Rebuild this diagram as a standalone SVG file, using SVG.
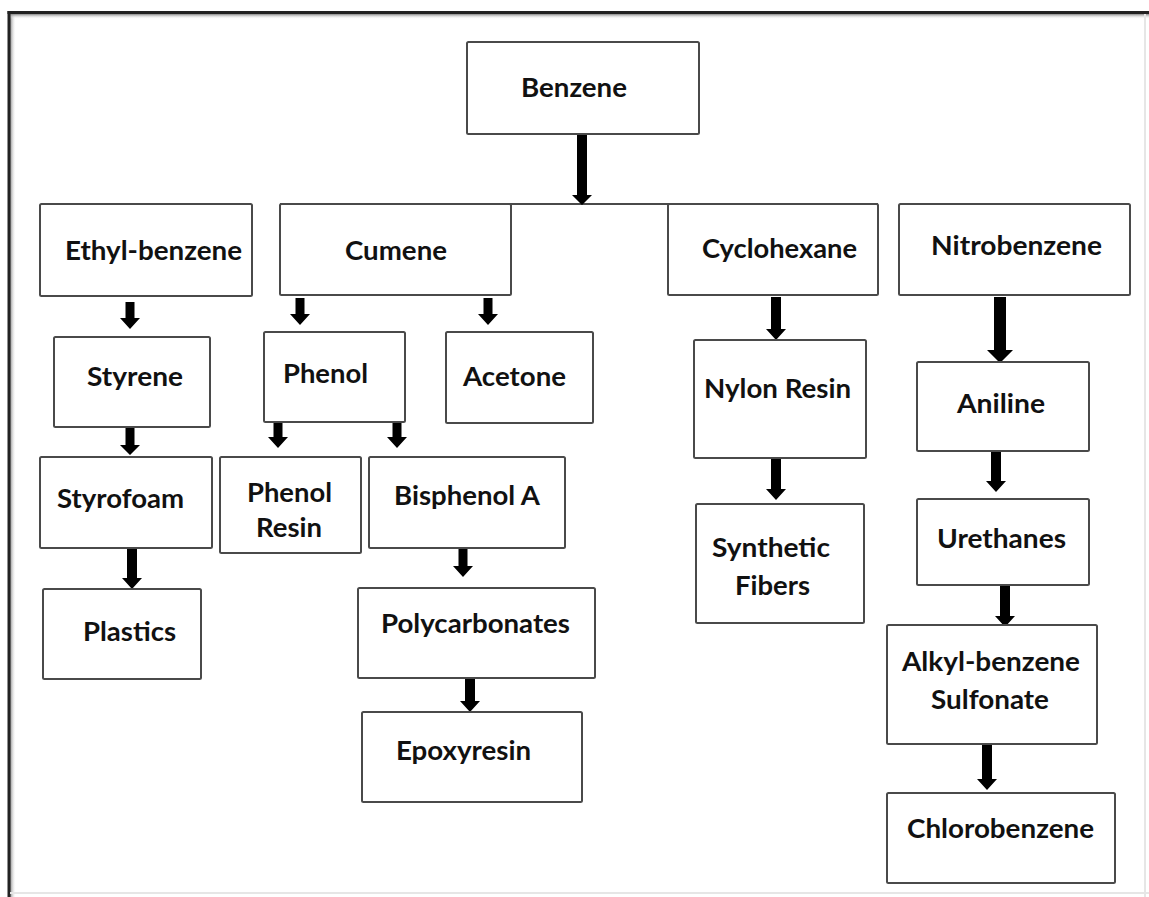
<svg xmlns="http://www.w3.org/2000/svg" width="1149" height="897" viewBox="0 0 1149 897">
<defs>
<linearGradient id="shL" x1="0" y1="0" x2="1" y2="0"><stop offset="0" stop-color="#888"/><stop offset="1" stop-color="#fff" stop-opacity="0"/></linearGradient>
<linearGradient id="shT" x1="0" y1="0" x2="0" y2="1"><stop offset="0" stop-color="#888"/><stop offset="1" stop-color="#fff" stop-opacity="0"/></linearGradient>
</defs>
<style>
.box{fill:#fff;stroke:#4a4a4a;stroke-width:2}
.lbl{font-family:Lato,"Open Sans","Liberation Sans",sans-serif;font-weight:bold;font-size:26px;fill:#111}
.arr{fill:#000;stroke:none}
.hl{stroke:#4a4a4a;stroke-width:2;fill:none}
</style>
<rect width="1149" height="897" fill="#fff"/>
<g id="frame">
<rect x="10" y="14" width="6" height="883" fill="url(#shL)"/>
<rect x="10" y="14" width="1139" height="5" fill="url(#shT)"/>
<rect x="7.5" y="11" width="3" height="886" fill="#222"/>
<rect x="7.5" y="11" width="1141.5" height="3" fill="#222"/>
<rect x="1144" y="14" width="2" height="883" fill="#e6e6e6"/>
<rect x="10" y="892" width="1139" height="2" fill="#e6e6e6"/>
</g>
<g id="connectors">
<line class="hl" x1="280" y1="204" x2="878" y2="204"/>
<path class="arr" d="M577,134 H587 V195 H592 L582,205 L572,195 H577 Z"/>
<path class="arr" d="M125.5,302 H134.5 V318 H140 L130,329 L120,318 H125.5 Z"/>
<path class="arr" d="M125.5,428 H134.5 V445 H140 L130,455 L120,445 H125.5 Z"/>
<path class="arr" d="M127,549 H137 V578 H142 L132,589 L122,578 H127 Z"/>
<path class="arr" d="M295.5,298 H304.5 V314 H310 L300,325 L290,314 H295.5 Z"/>
<path class="arr" d="M483.5,298 H492.5 V314 H498 L488,325 L478,314 H483.5 Z"/>
<path class="arr" d="M273.5,422 H282.5 V437 H288 L278,448 L268,437 H273.5 Z"/>
<path class="arr" d="M392.5,422 H401.5 V437 H407 L397,448 L387,437 H392.5 Z"/>
<path class="arr" d="M458.5,549 H467.5 V566 H473 L463,577 L453,566 H458.5 Z"/>
<path class="arr" d="M465,678 H475 V701 H480 L470,712 L460,701 H465 Z"/>
<path class="arr" d="M771,297 H781 V329 H786 L776,340 L766,329 H771 Z"/>
<path class="arr" d="M771,459 H781 V489 H786 L776,500 L766,489 H771 Z"/>
<path class="arr" d="M994,297 H1006 V350 H1013 L1000,363 L987,350 H994 Z"/>
<path class="arr" d="M991,452 H1001 V481 H1006 L996,492 L986,481 H991 Z"/>
<path class="arr" d="M1000,586 H1010 V616 H1015 L1005,627 L995,616 H1000 Z"/>
<path class="arr" d="M982,745 H992 V779 H997 L987,790 L977,779 H982 Z"/>
</g>
<g id="benzene"><rect class="box" x="467" y="42" width="232" height="92" rx="1.5"/><text class="lbl" x="521" y="97" textLength="106" lengthAdjust="spacingAndGlyphs">Benzene</text></g>
<g id="ethylbenzene"><rect class="box" x="40" y="204" width="212" height="92" rx="1.5"/><text class="lbl" x="65" y="260" textLength="177" lengthAdjust="spacingAndGlyphs">Ethyl-benzene</text></g>
<g id="cumene"><rect class="box" x="280" y="204" width="231" height="91" rx="1.5"/><text class="lbl" x="345" y="260" textLength="102" lengthAdjust="spacingAndGlyphs">Cumene</text></g>
<g id="cyclohexane"><rect class="box" x="668" y="204" width="210" height="91" rx="1.5"/><text class="lbl" x="702" y="258" textLength="155" lengthAdjust="spacingAndGlyphs">Cyclohexane</text></g>
<g id="nitrobenzene"><rect class="box" x="899" y="204" width="231" height="91" rx="1.5"/><text class="lbl" x="931" y="255" textLength="171" lengthAdjust="spacingAndGlyphs">Nitrobenzene</text></g>
<g id="styrene"><rect class="box" x="54" y="337" width="156" height="90" rx="1.5"/><text class="lbl" x="87" y="386" textLength="96" lengthAdjust="spacingAndGlyphs">Styrene</text></g>
<g id="phenol"><rect class="box" x="264" y="332" width="141" height="90" rx="1.5"/><text class="lbl" x="283" y="383" textLength="85" lengthAdjust="spacingAndGlyphs">Phenol</text></g>
<g id="acetone"><rect class="box" x="446" y="332" width="147" height="91" rx="1.5"/><text class="lbl" x="463" y="386" textLength="103" lengthAdjust="spacingAndGlyphs">Acetone</text></g>
<g id="styrofoam"><rect class="box" x="40" y="457" width="172" height="91" rx="1.5"/><text class="lbl" x="57" y="508" textLength="127" lengthAdjust="spacingAndGlyphs">Styrofoam</text></g>
<g id="phenolresin"><rect class="box" x="220" y="457" width="141" height="96" rx="1.5"/><text class="lbl" x="247" y="502" textLength="85" lengthAdjust="spacingAndGlyphs">Phenol</text><text class="lbl" x="256" y="537" textLength="66" lengthAdjust="spacingAndGlyphs">Resin</text></g>
<g id="bisphenola"><rect class="box" x="369" y="457" width="196" height="91" rx="1.5"/><text class="lbl" x="394" y="505" textLength="146" lengthAdjust="spacingAndGlyphs">Bisphenol A</text></g>
<g id="plastics"><rect class="box" x="43" y="589" width="158" height="90" rx="1.5"/><text class="lbl" x="83" y="641" textLength="93" lengthAdjust="spacingAndGlyphs">Plastics</text></g>
<g id="polycarbonates"><rect class="box" x="358" y="588" width="237" height="90" rx="1.5"/><text class="lbl" x="381" y="633" textLength="189" lengthAdjust="spacingAndGlyphs">Polycarbonates</text></g>
<g id="epoxyresin"><rect class="box" x="362" y="712" width="220" height="90" rx="1.5"/><text class="lbl" x="396" y="760" textLength="135" lengthAdjust="spacingAndGlyphs">Epoxyresin</text></g>
<g id="nylonresin"><rect class="box" x="694" y="340" width="172" height="118" rx="1.5"/><text class="lbl" x="704" y="398" textLength="147" lengthAdjust="spacingAndGlyphs">Nylon Resin</text></g>
<g id="syntheticfibers"><rect class="box" x="696" y="504" width="168" height="119" rx="1.5"/><text class="lbl" x="712" y="557" textLength="118" lengthAdjust="spacingAndGlyphs">Synthetic</text><text class="lbl" x="735" y="595" textLength="75" lengthAdjust="spacingAndGlyphs">Fibers</text></g>
<g id="aniline"><rect class="box" x="917" y="362" width="172" height="89" rx="1.5"/><text class="lbl" x="957" y="413" textLength="88" lengthAdjust="spacingAndGlyphs">Aniline</text></g>
<g id="urethanes"><rect class="box" x="917" y="499" width="172" height="86" rx="1.5"/><text class="lbl" x="937" y="548" textLength="129" lengthAdjust="spacingAndGlyphs">Urethanes</text></g>
<g id="alkylbenzenesulfonate"><rect class="box" x="887" y="625" width="210" height="119" rx="1.5"/><text class="lbl" x="902" y="671" textLength="178" lengthAdjust="spacingAndGlyphs">Alkyl-benzene</text><text class="lbl" x="931" y="709" textLength="118" lengthAdjust="spacingAndGlyphs">Sulfonate</text></g>
<g id="chlorobenzene"><rect class="box" x="887" y="793" width="228" height="90" rx="1.5"/><text class="lbl" x="907" y="838" textLength="187" lengthAdjust="spacingAndGlyphs">Chlorobenzene</text></g>
</svg>
